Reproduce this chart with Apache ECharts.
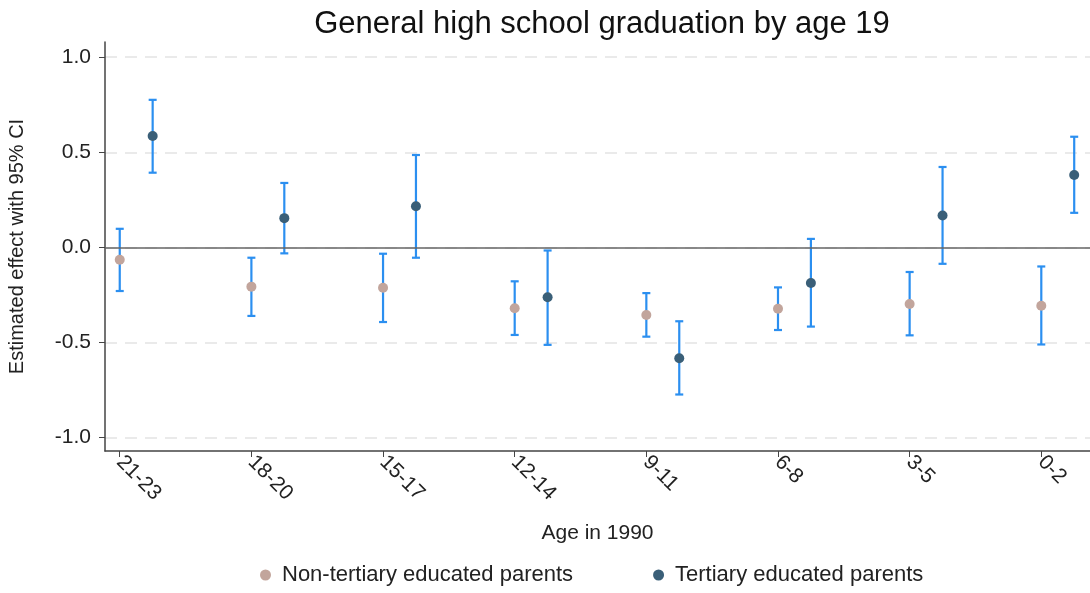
<!DOCTYPE html>
<html>
<head>
<meta charset="utf-8">
<script src="https://cdn.jsdelivr.net/npm/echarts@6/dist/echarts.min.js"></script>
<style>html,body{margin:0;padding:0;background:#fff}#chart{width:1090px;height:593px}</style>
</head>
<body>
<div id="chart"></div>
<script>
// age groups in 1990
const ageGroups = ["21-23", "18-20", "15-17", "12-14", "9-11", "6-8", "3-5", "0-2"];
// non-tertiary educated parents
const nonEst = [-0.065, -0.206, -0.212, -0.320, -0.355, -0.322, -0.297, -0.306];
const nonLo = [-0.229, -0.360, -0.392, -0.460, -0.469, -0.434, -0.462, -0.510];
const nonHi = [0.098, -0.054, -0.033, -0.178, -0.240, -0.210, -0.129, -0.100];
// tertiary educated parents
const terEst = [0.586, 0.154, 0.217, -0.262, -0.582, -0.187, 0.168, 0.381];
const terLo = [0.393, -0.031, -0.054, -0.512, -0.773, -0.416, -0.086, 0.182];
const terHi = [0.776, 0.339, 0.486, -0.016, -0.388, 0.045, 0.423, 0.582];
const yTicks = [-1.0, -0.5, 0.0, 0.5, 1.0];

const OFFSET = 0.25; // tertiary dot sits a bit right of the group

const nonPts = nonEst.map((v, i) => [i, v]);
const terPts = terEst.map((v, i) => [i + OFFSET, v]);
const ciData = [
	...nonLo.map((lo, i) => [i, lo, nonHi[i]]),
	...terLo.map((lo, i) => [i + OFFSET, lo, terHi[i]]),
];

const chart = echarts.init(document.getElementById("chart"), null, { renderer: "canvas" });
const font = "Arial, 'Liberation Sans', sans-serif";

chart.setOption({
	animation: false,
	textStyle: { fontFamily: font },
	title: {
		text: "General high school graduation by age 19",
		left: 597, top: 4, textAlign: "center",
		textStyle: { fontSize: 31, fontWeight: "normal", color: "#111", fontFamily: font },
	},
	legend: {
		bottom: 2, left: 255, itemGap: 80,
		icon: "circle", itemWidth: 11, itemHeight: 11,
		textStyle: { fontSize: 22, color: "#222", fontFamily: font, padding: [0, 0, 0, 6] },
		data: ["Non-tertiary educated parents", "Tertiary educated parents"],
	},
	grid: { left: 105, right: 0, top: 42, bottom: 142, outerBoundsMode: "none" },
	xAxis: {
		type: "value", min: -0.112, max: 7.37,
		name: "Age in 1990", nameLocation: "middle", nameGap: 72,
		nameTextStyle: { fontSize: 21, color: "#222" },
		axisLine: { show: true, onZero: false, lineStyle: { color: "#444", width: 1.5 } },
		axisTick: { show: true, length: 6, lineStyle: { color: "#444" }, customValues: ageGroups.map((_, i) => i) },
		axisLabel: {
			rotate: -45, fontSize: 21, color: "#222", margin: 8,
			customValues: ageGroups.map((_, i) => i),
			formatter: (v) => ageGroups[Math.round(v)],
		},
		splitLine: { show: false },
	},
	yAxis: {
		type: "value", min: -1.07, max: 1.08,
		name: "Estimated effect with 95% CI", nameLocation: "middle", nameGap: 78,
		nameTextStyle: { fontSize: 20, color: "#222" },
		axisLine: { show: true, onZero: false, lineStyle: { color: "#444", width: 1.5 } },
		axisTick: { show: true, length: 6, lineStyle: { color: "#444" }, customValues: yTicks },
		axisLabel: { fontSize: 21, color: "#222", margin: 14, customValues: yTicks, formatter: (v) => v.toFixed(1) },
		splitLine: { show: true, lineStyle: { color: "#e4e4e4", type: [12, 8], width: 1.5 } },
	},
	series: [
		{
			type: "custom", name: "ci", silent: true, z: 2,
			data: ciData,
			renderItem: (params, api) => {
				const x = api.value(0);
				const lo = api.coord([x, api.value(1)]);
				const hi = api.coord([x, api.value(2)]);
				const w = 4;
				const st = { stroke: "#2b8ff0", lineWidth: 2.2 };
				return {
					type: "group",
					children: [
						{ type: "line", shape: { x1: lo[0], y1: lo[1], x2: hi[0], y2: hi[1] }, style: st },
						{ type: "line", shape: { x1: lo[0] - w, y1: lo[1], x2: lo[0] + w, y2: lo[1] }, style: st },
						{ type: "line", shape: { x1: hi[0] - w, y1: hi[1], x2: hi[0] + w, y2: hi[1] }, style: st },
					],
				};
			},
		},
		{
			type: "scatter", name: "Non-tertiary educated parents", z: 3,
			symbolSize: 10, itemStyle: { color: "#c2a59c", opacity: 1 },
			data: nonPts,
			markLine: {
				silent: true, symbol: "none", label: { show: false },
				lineStyle: { color: "#666", type: "solid", width: 1.5 },
				data: [{ yAxis: 0 }],
			},
		},
		{
			type: "scatter", name: "Tertiary educated parents", z: 3,
			symbolSize: 10, itemStyle: { color: "#3a5f78", opacity: 1 },
			data: terPts,
		},
	],
});
</script>
</body>
</html>
